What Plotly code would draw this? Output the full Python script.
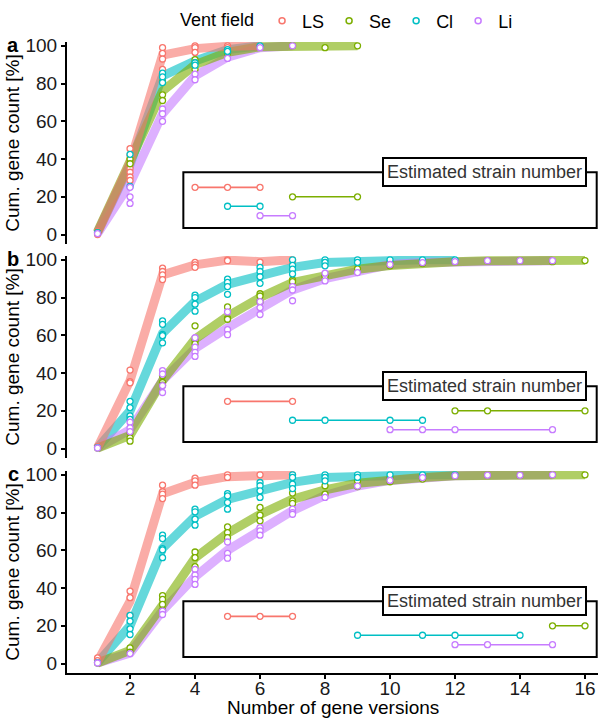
import plotly.graph_objects as go

# ---------------- data ----------------
fields = ["LS", "Se", "Cl", "Li"]
colors = ["#F8766D", "#7CAE00", "#00BFC4", "#C77CFF"]
strain_levels = [25, 20, 15, 10]          # y level of each field's strain segment
x_ticks = [2, 4, 6, 8, 10, 12, 14, 16]
y_ticks = [0, 20, 40, 60, 80, 100]

# panel a (x = 1..n)
a_LS_mean = [1, 38, 95, 98.5, 99.7, 100]
a_LS_pts = [[0, 1.5], [45.5, 42, 35, 33, 30.5, 28.7], [99, 96, 93, 87.5], [100, 99, 96.5], [100, 99], [100]]
a_Se_mean = [1.5, 39, 76, 90, 96.5, 99.5, 100, 99.5, 100]
a_Se_pts = [[1], [40, 37.5], [81, 74, 71], [92.7, 91, 87.5], [97.3, 96], [99.5], [100], [99], [100]]
a_Cl_mean = [1, 37, 84, 92, 98, 100]
a_Cl_pts = [[1], [42.5, 25.5], [85.5, 83.5, 80.5], [91, 89.7], [98, 97], [100]]
a_Li_mean = [0.5, 27, 64, 84, 94, 99, 100]
a_Li_pts = [[0.5], [25, 20, 16.5], [66.5, 64, 60], [85, 82], [93.3], [99], [100]]
a_strain = {"LS": [4, 5, 6], "Se": [7, 9], "Cl": [5, 6], "Li": [6, 7]}

# panel b
b_LS_mean = [0.5, 36, 92, 97.3, 99.8, 99, 100]
b_LS_pts = [[1], [41.6, 35.5, 34.8], [95.6, 93.8, 92, 89.5], [98.6, 97.3, 96], [100, 99.5], [98.8], [100, 99.3]]
b_Se_mean = [0.3, 7, 36, 58, 70, 80, 88, 92, 95, 97, 98.5, 99, 99.5, 99.5, 99.5, 99.7]
b_Se_pts = [[0.3], [8.4, 5.7, 3.9], [38.6, 35, 33.6], [65, 57.3, 55.5], [75, 69, 68.5], [82, 80.8, 77.8],
            [89.3, 88.4], [92, 91], [95.2], [98.6, 96.8], [99, 98], [99], [99.5], [99.5], [99], [99.6]]
b_Cl_mean = [0.5, 20, 61, 78, 87, 92, 96, 98.5, 99.3, 100, 100, 100]
b_Cl_pts = [[0.5], [25, 21.7, 17.3, 15.5], [67.6, 65.8, 60.5, 59.8, 56], [81.3, 80, 76.5, 72.8],
            [89.7, 88, 85.8, 81.7], [96, 93.8, 91, 87.5], [100, 97, 95, 92.5], [100, 98.6, 96.8],
            [100, 98.6], [100], [100], [100]]
b_Li_mean = [0.3, 10, 36, 53, 64, 74, 84, 90, 94, 97.5, 98.5, 99, 99.5, 99.5, 99.5]
b_Li_pts = [[0.3], [14, 11, 9], [41.3, 39.5, 33.3, 29.7], [58.7, 53.7, 51, 48.8], [72.4, 63, 60.3],
            [77.8, 74.7, 71], [85.8, 84, 78.3], [92.9, 88.8], [93.2], [97.5], [98.5], [99], [99.5], [99.5], [99.5]]
b_strain = {"LS": [5, 7], "Se": [12, 13, 16], "Cl": [7, 8, 10, 11], "Li": [10, 11, 12, 15]}

# panel c
c_LS_mean = [1, 33, 90, 96, 99, 100, 100]
c_LS_pts = [[3, 1.6, 0.5], [38.4, 34.9, 25.5], [94.5, 91, 89.7, 87.4], [98.2, 96.8, 94.5], [100, 98.6], [100], [100]]
c_Se_mean = [0.3, 7, 31, 56, 69, 79, 87, 92, 95.5, 97.5, 98.5, 99.5, 99.8, 99.8, 100, 100]
c_Se_pts = [[0.3], [8.3, 6], [36, 34, 31.3, 28.3], [59.1, 56.1, 51.3], [72.4, 69.4, 66.7], [82.7, 78.6, 75.6],
            [90.3, 86.2, 84.8], [94.2, 89.7], [96.8, 93.8], [98.6, 96.3], [99.5, 97.7], [99.5], [99.8],
            [99.8], [100], [100]]
c_Cl_mean = [0.5, 20, 61, 78, 87, 92, 96, 98.5, 99.3, 100, 100, 100]
c_Cl_pts = [[0.5], [25.5, 22.5, 18.4, 15.4], [68, 66.2, 60.9, 60.2, 56.1], [81.8, 80.4, 76.5, 73.3],
            [90, 88.8, 85.3, 81.8], [95.9, 94.2, 91.5, 88], [100, 98.6, 95, 92.7], [100, 98.6, 96.8],
            [100, 98.6], [100], [100], [100]]
c_Li_mean = [0.3, 5.5, 28, 46, 60, 70, 81, 89, 94, 97, 98.5, 99.5, 99.8, 99.8, 100]
c_Li_pts = [[0.3], [5.3], [27.8, 26], [49.9, 46.9, 44.6, 41.9], [64.4, 58.4, 55.8], [72, 70.3, 68],
            [81.8, 80, 79.1], [88], [94], [97], [98.5], [99.5], [99.8], [99.8], [100]]
c_strain = {"LS": [5, 6, 7], "Se": [15, 16], "Cl": [9, 11, 12, 14], "Li": [12, 13, 15]}

panels = [
    ("a", {"LS": a_LS_mean, "Se": a_Se_mean, "Cl": a_Cl_mean, "Li": a_Li_mean},
     {"LS": a_LS_pts, "Se": a_Se_pts, "Cl": a_Cl_pts, "Li": a_Li_pts}, a_strain),
    ("b", {"LS": b_LS_mean, "Se": b_Se_mean, "Cl": b_Cl_mean, "Li": b_Li_mean},
     {"LS": b_LS_pts, "Se": b_Se_pts, "Cl": b_Cl_pts, "Li": b_Li_pts}, b_strain),
    ("c", {"LS": c_LS_mean, "Se": c_Se_mean, "Cl": c_Cl_mean, "Li": c_Li_mean},
     {"LS": c_LS_pts, "Se": c_Se_pts, "Cl": c_Cl_pts, "Li": c_Li_pts}, c_strain),
]

# ---------------- figure ----------------
W, H = 598, 722
mt, mb, ml, mr = 42, 49, 67, 0
ph = H - mt - mb
pan_px = [(42, 244), (256, 458), (471, 673)]
def py(p):
    return (H - mb - p) / ph

col = dict(zip(fields, colors))
lvl = dict(zip(fields, strain_levels))
FONT = "Liberation Sans, Arial, sans-serif"

fig = go.Figure()
draw_order = ["Cl", "Li", "Se", "LS"]

for i, (lab, means, pts, strain) in enumerate(panels):
    xa = "x" if i == 0 else f"x{i+1}"
    ya = "y" if i == 0 else f"y{i+1}"
    # thick mean lines
    for f in draw_order:
        m = means[f]
        fig.add_trace(go.Scatter(x=list(range(1, len(m) + 1)), y=m, mode="lines",
                                 line=dict(color=col[f], width=9), opacity=0.6,
                                 xaxis=xa, yaxis=ya, showlegend=False, hoverinfo="skip"))
    # replicate points
    for f in fields:
        xs, ys = [], []
        for k, vals in enumerate(pts[f]):
            for v in vals:
                xs.append(k + 1)
                ys.append(v)
        fig.add_trace(go.Scatter(x=xs, y=ys, mode="markers",
                                 marker=dict(symbol="circle", size=6, color="white",
                                             line=dict(color=col[f], width=1.3)),
                                 xaxis=xa, yaxis=ya, showlegend=False, cliponaxis=False))
    # strain number segments
    for f in fields:
        sx = strain[f]
        fig.add_trace(go.Scatter(x=sx, y=[lvl[f]] * len(sx), mode="lines+markers",
                                 line=dict(color=col[f], width=1.6),
                                 marker=dict(symbol="circle", size=6, color="white",
                                             line=dict(color=col[f], width=1.3)),
                                 xaxis=xa, yaxis=ya, showlegend=False))
    fig.add_shape(type="rect", xref=xa, yref=ya, x0=3.64, x1=16.36, y0=3.5, y1=33,
                  line=dict(color="black", width=2), fillcolor="rgba(0,0,0,0)", layer="above")
    fig.add_annotation(xref=xa, yref=ya, x=12.9, y=33, text="Estimated strain number",
                       showarrow=False, bgcolor="white", bordercolor="black", borderwidth=2,
                       borderpad=3, font=dict(size=18, color="#333333", family=FONT))
    top, bot = pan_px[i]
    fig.add_annotation(xref="paper", yref="paper", x=(13 - ml) / (W - ml - mr), y=py(top + 3),
                       text=f"<b>{lab}</b>", showarrow=False, xanchor="center", yanchor="middle",
                       font=dict(size=20, color="black", family=FONT))
    dom = [py(bot), py(top)]
    yaxis = dict(domain=dom, range=[-5, 102], tickvals=y_ticks, ticks="outside", ticklen=4,
                 tickwidth=1.5, tickcolor="black", showline=True, linecolor="black", linewidth=2,
                 showgrid=False, zeroline=False, anchor=xa,
                 tickfont=dict(size=19, color="#1a1a1a", family=FONT),
                 title=dict(text="Cum. gene count [%]", font=dict(size=19, color="black", family=FONT),
                            standoff=1))
    xaxis = dict(domain=[0, 1], range=[0.06, 16.4], anchor=ya, showgrid=False, zeroline=False)
    if i < 2:
        xaxis.update(visible=False)
    else:
        xaxis.update(tickvals=x_ticks, ticks="outside", ticklen=4, tickwidth=1.5, tickcolor="black",
                     showline=True, linecolor="black", linewidth=2, ticklabelstandoff=-7,
                     tickfont=dict(size=19, color="#1a1a1a", family=FONT))
    key = "" if i == 0 else str(i + 1)
    fig.layout["xaxis" + key] = xaxis
    fig.layout["yaxis" + key] = yaxis

# x-axis title
fig.add_annotation(xref="paper", yref="paper", x=(333 - ml) / (W - ml - mr), y=py(707),
                   text="Number of gene versions", showarrow=False, xanchor="center",
                   yanchor="middle", font=dict(size=19, color="black", family=FONT))

# legend traces
for f in fields:
    fig.add_trace(go.Scatter(x=[None], y=[None], mode="markers", name=f,
                             marker=dict(symbol="circle", size=6, color="white",
                                         line=dict(color=col[f], width=1.5))))

fig.update_layout(
    width=W, height=H,
    margin=dict(l=ml, r=mr, t=mt, b=mb, autoexpand=False),
    paper_bgcolor="white", plot_bgcolor="white",
    font=dict(family=FONT, size=18, color="black"),
    showlegend=True,
    legend=dict(orientation="h", x=(178 - ml) / (W - ml - mr), xanchor="left",
                y=py(21), yanchor="middle", itemwidth=30,
                title=dict(text="Vent field", side="left", font=dict(size=18)),
                font=dict(size=18), bgcolor="rgba(0,0,0,0)"),
)

fig.write_html("out.html")
